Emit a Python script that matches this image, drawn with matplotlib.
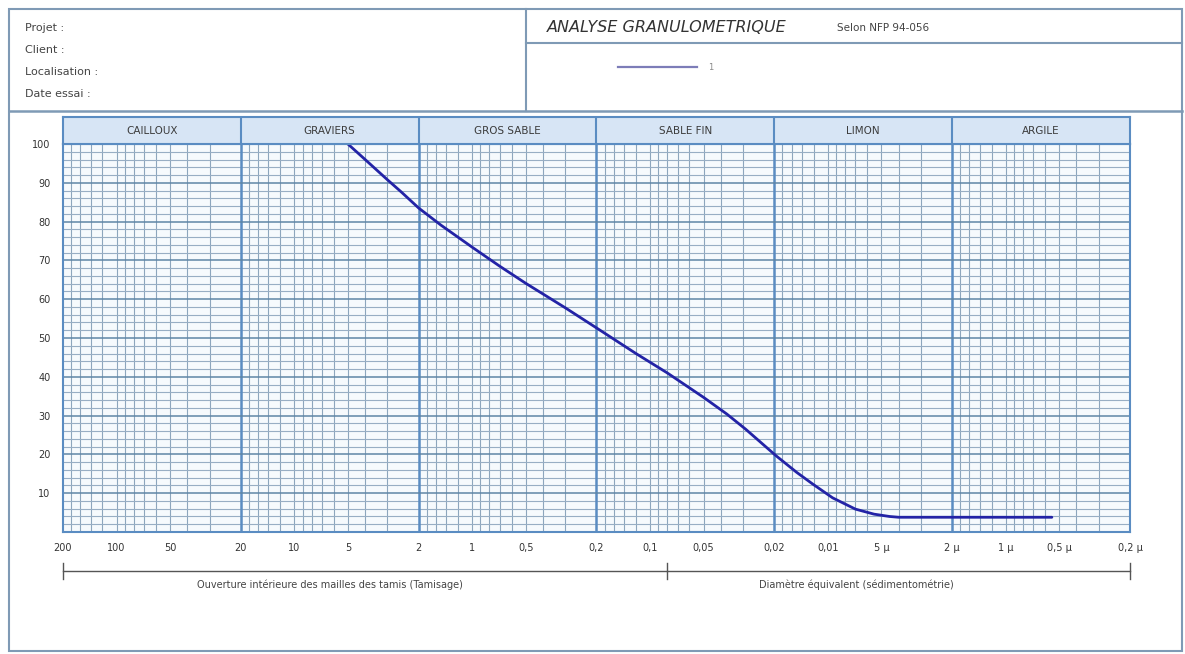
import numpy as np
import matplotlib.pyplot as plt
from matplotlib.patches import Rectangle

# grain size curve (diameter in mm, % passing)
diam_mm = [5, 4, 3, 2.5, 2, 1.5, 1, 0.7, 0.5, 0.3, 0.2, 0.12, 0.08, 0.05,
           0.037, 0.029, 0.0195, 0.015, 0.0122, 0.0094, 0.0070, 0.0055,
           0.0045, 0.0040, 0.00055]
passing = [100, 96, 90.8, 87.6, 83.5, 79.1, 73.4, 68.5, 64.1, 57.8, 52.6, 46, 41, 34.7,
           30.4, 26.5, 19.6, 15.4, 12.4, 8.8, 5.9, 4.6,
           4.0, 3.8, 3.8]

class_names = ['CAILLOUX', 'GRAVIERS', 'GROS SABLE', 'SABLE FIN', 'LIMON', 'ARGILE']
class_edges = [200, 20, 2, 0.2, 0.02, 0.002, 0.0002]

tick_values = [200, 100, 50, 20, 10, 5, 2, 1, 0.5, 0.2, 0.1, 0.05,
               0.02, 0.01, 0.005, 0.002, 0.001, 0.0005, 0.0002]
tick_labels = ['200', '100', '50', '20', '10', '5', '2', '1', '0,5', '0,2', '0,1', '0,05',
               '0,02', '0,01', '5 µ', '2 µ', '1 µ', '0,5 µ', '0,2 µ']
y_ticks = [10, 20, 30, 40, 50, 60, 70, 80, 90, 100]

header_fields = ['Projet :', 'Client :', 'Localisation :', 'Date essai :']
sieve_limit = 0.08  # limit between sieving and sedimentation

W, H = 1185, 654
plt.rcParams['font.family'] = ['DejaVu Sans']


def box(l, t, r, b):
	return [l / W, 1 - b / H, (r - l) / W, (b - t) / H]


fig = plt.figure(figsize=(W / 100, H / 100), dpi=100)
fig.patch.set_facecolor('white')

# frame / header drawn in pixel coordinates
bg = fig.add_axes([0, 0, 1, 1], zorder=-1)
bg.set_xlim(0, W)
bg.set_ylim(H, 0)
bg.axis('off')
frame_col = '#7f9ab5'
bg.add_patch(Rectangle((9, 9), 1173, 642, fill=False, ec=frame_col, lw=1.5))
bg.plot([9, 1182], [111, 111], color=frame_col, lw=1.8)
bg.plot([526, 526], [9, 111], color=frame_col, lw=1.5)
bg.plot([526, 1182], [43, 43], color=frame_col, lw=1.5)
for i, txt in enumerate(header_fields):
	bg.text(25, 28 + i * 22, txt, fontsize=8, color='#444444', va='center')
bg.text(547, 28, 'ANALYSE GRANULOMETRIQUE', fontsize=11.5, style='italic', color='#333333', va='center')
bg.text(837, 28, 'Selon NFP 94-056', fontsize=7.5, color='#444444', va='center')
bg.plot([618, 697], [67, 67], color='#7d7db8', lw=1.6)
bg.text(708, 67, '1', fontsize=6, color='#888888', va='center')

# main chart
ax = fig.add_axes(box(63, 144, 1130, 532))
ax.set_facecolor('#f6fafd')
ax.set_xscale('log')
ax.set_xlim(class_edges[0], class_edges[-1])
ax.set_ylim(0, 100)

minor_col = '#8da6bd'
for e in range(-4, 3):
	for m in [1.2, 1.4, 1.6, 1.8, 3, 4, 5, 6, 7, 8, 9, 10]:
		v = m * 10.0 ** e
		if class_edges[-1] < v < class_edges[0]:
			ax.axvline(v, color=minor_col, lw=0.8, zorder=1)
for v in class_edges[1:-1]:
	ax.axvline(v, color='#5a8cc2', lw=1.8, zorder=2)
for y in range(2, 100, 2):
	if y % 10 == 0:
		ax.axhline(y, color='#5f86a6', lw=1.1, zorder=2)
	else:
		ax.axhline(y, color='#98aec4', lw=0.8, zorder=1)

ax.plot(diam_mm, passing, color='#2323a6', lw=2, zorder=5,
	solid_capstyle='round', solid_joinstyle='round')

ax.set_xticks(tick_values)
ax.set_xticklabels(tick_labels)
ax.xaxis.set_minor_locator(plt.NullLocator())
ax.set_yticks(y_ticks)
ax.tick_params(axis='both', length=0, labelsize=7, labelcolor='#333333')
ax.tick_params(axis='x', pad=8)
ax.tick_params(axis='y', pad=9)
for s in ax.spines.values():
	s.set_color('#5a8cc2')
	s.set_linewidth(1.5)

# class band above the chart
band = fig.add_axes(box(63, 117, 1130, 144))
band.set_xscale('log')
band.set_xlim(class_edges[0], class_edges[-1])
band.set_ylim(0, 1)
band.set_facecolor('#d7e5f5')
band.set_xticks([])
band.set_yticks([])
band.xaxis.set_minor_locator(plt.NullLocator())
for s in band.spines.values():
	s.set_color('#5a8cc2')
	s.set_linewidth(1.5)
for i, name in enumerate(class_names):
	mid = np.sqrt(class_edges[i] * class_edges[i + 1])
	band.text(mid, 0.5, name, ha='center', va='center', fontsize=7.5, color='#3c3c3c')
	if i > 0:
		band.axvline(class_edges[i], color='#5a8cc2', lw=1.5)

# span brackets under the axis
tr = ax.get_xaxis_transform()
brk_y = -0.1
for a, b in [(class_edges[0], sieve_limit), (sieve_limit, class_edges[-1])]:
	ax.plot([a, b], [brk_y, brk_y], color='#555555', lw=1, transform=tr, clip_on=False)
for v in [class_edges[0], sieve_limit, class_edges[-1]]:
	ax.plot([v, v], [brk_y - 0.02, brk_y + 0.02], color='#555555', lw=1, transform=tr, clip_on=False)
ax.text(np.sqrt(class_edges[0] * 0.2), brk_y - 0.035, 'Ouverture intérieure des mailles des tamis (Tamisage)',
	transform=tr, ha='center', va='center', fontsize=7, color='#444444')
ax.text(np.sqrt(0.02 * 0.002) * 1.1, brk_y - 0.035, 'Diamètre équivalent (sédimentométrie)',
	transform=tr, ha='center', va='center', fontsize=7, color='#444444')

fig.savefig('out.png', dpi=100)
